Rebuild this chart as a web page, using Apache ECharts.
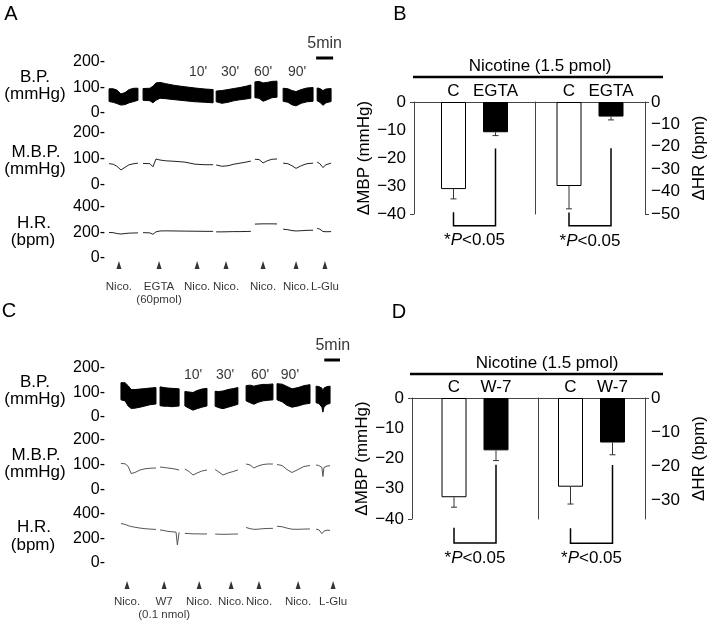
<!DOCTYPE html>
<html><head><meta charset="utf-8">
<script src="https://cdn.jsdelivr.net/npm/echarts@6/dist/echarts.min.js"></script>
<style>html,body{margin:0;padding:0;background:#fff}#c{width:709px;height:622px}</style>
</head><body><div id="c"></div>
<script>
// ===== Panel A traces (time in min; null = gap between recordings) =====
const tA      = [0.9,2.1,3.2,4.4,5.6,6.8,8.2,9.4, null, 10.9,12.9,13.8,14.7,15.9,17.6,20.3,23.2,26.2,29.1,31.5, null, 32.4,34.1,35.9,37.6,39.4,41.2,42.6, null, 43.8,45.0,46.2,47.4,48.8,50.3, null, 52.1,53.5,54.7,55.9,57.4,59.1,60.9, null, 62.1,62.9,63.8,64.7,66.2];
const bpHighA = [95,95,90,75,80,92,97,97, null, 96,97,105,118,120,115,108,103,98,94,92, null, 86,88,92,96,100,105,110, null, 122,124,118,120,124,125, null, 97,95,88,84,92,98,100, null, 98,96,88,94,96];
const bpLowA  = [45,42,37,31,33,40,45,50, null, 50,48,40,50,58,56,52,48,44,42,40, null, 44,38,42,48,52,55,58, null, 60,58,46,52,60,62, null, 46,42,32,28,38,44,46, null, 48,42,30,40,45];
const mbpA    = [82,80,72,58,68,78,82,84, null, 83,82,70,100,96,93,91,88,80,78,78, null, 77,72,74,80,84,88,92, null, 99,98,85,93,99,100, null, 84,82,74,64,74,82,84, null, 88,82,67,78,84];
const hrA     = [200,199,192,188,192,195,196,197, null, 199,197,186,205,212,213,212,211,210,209,209, null, 205,205,206,207,207,208,209, null, 266,267,268,268,268,267, null, 226,222,215,212,214,217,218, null, 232,226,208,206,207];
const arrowA_t = [3.8, 15.6, 26.8, 35.3, 46.2, 55.9, 64.4];
const arrowA_label = ['Nico.', 'EGTA\n(60pmol)', 'Nico.', 'Nico.', 'Nico.', 'Nico.', 'L-Glu'];
const timeMarkA_t = [27.1, 36.5, 46.2, 56.2];
const timeMarkA = ["10'", "30'", "60'", "90'"];

// ===== Panel C traces =====
const tC      = [4.4,5.6,6.5,7.4,8.5,10.0,11.5,12.9,14.7, null, 15.9,17.1,18.2,19.4,20.6,21.0,21.5, null, 23.2,24.4,25.6,26.8,28.2,29.7, null, 32.1,33.2,34.4,35.9,37.4,38.8, null, 41.2,42.4,43.5,44.7,46.2,47.6,49.1, null, 50.3,51.8,53.2,54.7,56.5,58.2,60.0, null, 61.8,62.6,63.5,63.8,64.1,65.0,65.9];
const bpHighC = [140,140,128,112,112,114,116,118,120, null, 123,120,118,117,116,116,115, null, 104,102,100,108,114,117, null, 105,104,106,112,116,120, null, 128,130,126,130,133,133,135, null, 136,134,125,115,120,128,132, null, 126,124,118,100,118,124,126];
const bpLowC  = [70,66,45,35,36,40,45,50,53, null, 46,44,44,42,44,44,45, null, 45,36,28,34,40,45, null, 44,38,34,40,46,52, null, 66,58,52,60,66,68,70, null, 70,62,48,40,45,52,56, null, 58,55,40,20,40,52,55];
const mbpC    = [106,105,95,66,70,80,85,87,88, null, 92,90,88,86,83,82,80, null, 84,74,60,68,76,80, null, 82,72,60,68,74,80, null, 104,100,88,96,102,104,104, null, 102,98,82,70,82,94,98, null, 100,98,90,54,90,96,97];
const hrC     = [322,315,305,298,292,285,280,277,274, null, 270,265,258,255,252,147,250, null, 242,240,238,238,237,237, null, 236,235,234,235,236,237, null, 290,280,275,276,280,282,283, null, 300,296,285,276,275,277,278, null, 276,272,240,230,260,268,266];
const arrowC_t = [6.2, 17.1, 27.4, 36.8, 45.0, 56.5, 66.8];
const arrowC_label = ['Nico.', 'W7\n(0.1 nmol)', 'Nico.', 'Nico.', 'Nico.', 'Nico.', 'L-Glu'];
const timeMarkC_t = [25.6, 35.0, 45.3, 54.1];
const timeMarkC = ["10'", "30'", "60'", "90'"];

const scaleBarMin = 5;     // 5 min scale bar
const bpTicks = [0, 100, 200];
const hrTicks = [0, 200, 400];

// ===== Panel B / D bars =====
const groupsB = ['C', 'EGTA'];
const mbpB = [-31.1, -10.8];  const mbpErrB = [3.5, 1.2];
const hrB  = [-37.5, -6.5];   const hrErrB  = [10.2, 1.5];
const groupsD = ['C', 'W-7'];
const mbpD = [-32.8, -17.3];  const mbpErrD = [3.3, 3.4];
const hrD  = [-26.1, -13.1];  const hrErrD  = [5.1, 3.6];
// significance brackets: [left leg top, right leg top, bottom]
const bracketMbpB = [-39.4, -16.6, -44.2];
const bracketHrB  = [-49.3, -20.7, -55.3];
const bracketMbpD = [-42.9, -22.1, -47.9];
const bracketHrD  = [-38.3, -19.7, -42.7];
const mbpBarTicks = [0, -10, -20, -30, -40];
const hrTicksB = [0, -10, -20, -30, -40, -50];
const hrTicksD = [0, -10, -20, -30];
const sigText = '*P<0.05';

// ---------------------------------------------------------------
const FONT = 'Liberation Sans, Arial, sans-serif';
const BAR_W = 25, BAR_GAP = 17, CAP = 3;
const zip = (t, v) => t.map((x, i) => [x, v[i]]);
const minus = v => String(v).replace('-', '\u2212');
function segmentsOf(t) {
  const segs = []; let cur = [];
  t.forEach((x, i) => { if (x === null) { if (cur.length) segs.push(cur); cur = []; } else cur.push(i); });
  if (cur.length) segs.push(cur);
  return segs;
}

const chart = echarts.init(document.getElementById('c'), null, {renderer: 'canvas'});

const traceGrids = [
  {left:106, top:62,  width:231.2, height:51},
  {left:106, top:133, width:231.2, height:52},
  {left:106, top:207, width:231.2, height:51},
  {left:106, top:368, width:231.2, height:49},
  {left:106, top:440, width:231.2, height:50},
  {left:106, top:514, width:231.2, height:49}
];
const barGrids = [
  {left:414, top:102, width:121, height:112},
  {left:535, top:102, width:127, height:112},
  {left:412, top:398, width:126, height:121},
  {left:538, top:398, width:124, height:121}
];

const xAxes = [];
for (let i = 0; i < 6; i++) xAxes.push({type:'value', gridIndex:i, min:0, max:68, show:false});
['MBP', 'HR', 'MBP', 'HR'].forEach((c, k) => xAxes.push({
  type:'category', gridIndex:6 + k, data:[c], position:'top',
  axisLine:{show:true, onZero:false, lineStyle:{color:'#444', width:1}},
  axisTick:{show:false}, axisLabel:{show:false}, splitLine:{show:false}
}));

function traceY(gi, ticks) {
  return {type:'value', gridIndex:gi, min:ticks[0], max:ticks[ticks.length-1], interval:ticks[1]-ticks[0],
    axisLine:{show:false}, axisTick:{show:false}, splitLine:{show:false},
    axisLabel:{formatter: v => v + '-', fontSize:16, color:'#000', margin:1, fontFamily:FONT}};
}
const yAxes = [
  traceY(0, bpTicks), traceY(1, bpTicks), traceY(2, hrTicks),
  traceY(3, bpTicks), traceY(4, bpTicks), traceY(5, hrTicks)
];
const axLine = {show:true, lineStyle:{color:'#444', width:1}};
function leftBarY(gi, ticks) {
  return {type:'value', gridIndex:gi, position:'left', min:ticks[ticks.length-1], max:0, interval:10,
    axisLine:axLine, splitLine:{show:false},
    axisTick:{show:true, length:4, customValues:[0, ticks[ticks.length-1]], lineStyle:{color:'#444'}},
    axisLabel:{formatter:minus, fontSize:17, color:'#000', margin:8, fontFamily:FONT},
    name:'\u0394MBP (mmHg)', nameLocation:'middle', nameGap:31,
    nameTextStyle:{fontSize:17, color:'#000', fontFamily:FONT}};
}
function dividerY(gi, min) {
  return {type:'value', gridIndex:gi, position:'left', min:min, max:0,
    axisLine:axLine, axisTick:{show:false}, axisLabel:{show:false}, splitLine:{show:false}};
}
function rightBarY(gi, min, ticks, tickEnds) {
  return {type:'value', gridIndex:gi, position:'right', min:min, max:0,
    axisLine:axLine, splitLine:{show:false},
    axisTick:{show:true, length:4, customValues:tickEnds, lineStyle:{color:'#444'}},
    axisLabel:{customValues:ticks, formatter:minus, fontSize:17, color:'#000', margin:6, fontFamily:FONT},
    name:'\u0394HR (bpm)', nameLocation:'middle', nameRotate:90, nameGap:46,
    nameTextStyle:{fontSize:17, color:'#000', fontFamily:FONT}};
}
yAxes.push(leftBarY(6, mbpBarTicks));                    // 6
yAxes.push(dividerY(7, -50));                            // 7
yAxes.push(rightBarY(7, -50, hrTicksB, [0, -50]));       // 8
yAxes.push(leftBarY(8, mbpBarTicks));                    // 9
yAxes.push(dividerY(9, -35.6));                          // 10
yAxes.push(rightBarY(9, -35.6, hrTicksD, [0]));          // 11

const series = [];
function tracePanel(base, t, hi, lo, mbp, hr, color, arrowsT, arrowsL, arrowY, arrowDist, tmT, tmL, tmY, sbY) {
  const common = {type:'line', symbol:'none', showSymbol:false, connectNulls:false, silent:true, animation:false};
  const segs = segmentsOf(t);
  // pulsatile blood pressure: filled band between diastolic (low) and systolic (high) envelope
  series.push({type:'custom', xAxisIndex:base, yAxisIndex:base, silent:true, animation:false, clip:false, z:2,
    data:segs.map(s => [t[s[0]], hi[s[0]]]),
    renderItem(params, api) {
      const s = segs[params.dataIndex];
      const top = s.map(i => api.coord([t[i], hi[i]]));
      const bot = s.slice().reverse().map(i => api.coord([t[i], lo[i]]));
      return {type:'polygon', shape:{points:top.concat(bot)}, style:{fill:'#000', stroke:'#000', lineWidth:1}};
    }});
  series.push(Object.assign({}, common, {xAxisIndex:base+1, yAxisIndex:base+1, data:zip(t, mbp),
    lineStyle:{color:color, width:1}}));
  series.push(Object.assign({}, common, {xAxisIndex:base+2, yAxisIndex:base+2, data:zip(t, hr),
    lineStyle:{color:color, width:1}}));
  // 5 min scale bar
  const tEnd = arrowsT[arrowsT.length-1] + 2.4;
  series.push(Object.assign({}, common, {xAxisIndex:base, yAxisIndex:base, clip:false, z:4,
    data:[[tEnd - scaleBarMin, sbY], [tEnd, sbY]], lineStyle:{color:'#000', width:3}}));
  series.push({type:'scatter', xAxisIndex:base, yAxisIndex:base, clip:false, silent:true, animation:false,
    data:[[tEnd - scaleBarMin/2, sbY]], symbolSize:1, itemStyle:{color:'rgba(0,0,0,0)'},
    label:{show:true, position:'top', distance:6, formatter:scaleBarMin + 'min', fontSize:16, color:'#000', fontFamily:FONT}});
  // injection arrows
  series.push({type:'scatter', xAxisIndex:base+2, yAxisIndex:base+2, clip:false, silent:true, animation:false,
    data:arrowsT.map(x => [x, arrowY]), symbol:'triangle', symbolSize:[5, 8], itemStyle:{color:'#000'},
    label:{show:true, position:'bottom', distance:arrowDist, formatter:p => arrowsL[p.dataIndex],
      fontSize:11.5, lineHeight:13, color:'#000', fontFamily:FONT}});
  // time marks
  series.push({type:'scatter', xAxisIndex:base, yAxisIndex:base, clip:false, silent:true, animation:false,
    data:tmT.map(x => [x, tmY]), symbolSize:1, itemStyle:{color:'rgba(0,0,0,0)'},
    label:{show:true, position:'inside', formatter:p => tmL[p.dataIndex], fontSize:14, color:'#000', fontFamily:FONT}});
}
tracePanel(0, tA, bpHighA, bpLowA, mbpA, hrA, '#222', arrowA_t, arrowA_label, -55, 11, timeMarkA_t, timeMarkA, 161, 216);
tracePanel(3, tC, bpHighC, bpLowC, mbpC, hrC, '#555', arrowC_t, arrowC_label, -180, 6, timeMarkC_t, timeMarkC, 171, 233);

function barPanel(xi, yi, groups, means, errs, br) {
  const lbl = name => ({show:true, position:'top', distance:2, formatter:name, fontSize:17, color:'#000', fontFamily:FONT});
  series.push({type:'bar', name:groups[0], xAxisIndex:xi, yAxisIndex:yi, data:[means[0]], barWidth:BAR_W,
    barGap:(BAR_GAP / BAR_W * 100) + '%', animation:false, silent:true,
    itemStyle:{color:'#fff', borderColor:'#000', borderWidth:1}, label:lbl(groups[0])});
  series.push({type:'bar', name:groups[1], xAxisIndex:xi, yAxisIndex:yi, data:[means[1]], barWidth:BAR_W,
    barGap:(BAR_GAP / BAR_W * 100) + '%', animation:false, silent:true,
    itemStyle:{color:'#000', borderColor:'#000', borderWidth:1}, label:lbl(groups[1])});
  series.push({type:'custom', xAxisIndex:xi, yAxisIndex:yi, data:[0], clip:false, silent:true, z:5, animation:false,
    renderItem(params, api) {
      const off = (BAR_W + BAR_GAP) / 2;
      const cx = api.coord([0, 0])[0];
      const xs = [cx - off, cx + off];
      const ch = [];
      means.forEach((m, i) => {
        const y1 = api.coord([0, m])[1], y2 = api.coord([0, m - errs[i]])[1];
        ch.push({type:'line', shape:{x1:xs[i], y1:y1, x2:xs[i], y2:y2}, style:{stroke:'#333', lineWidth:1}});
        ch.push({type:'line', shape:{x1:xs[i]-CAP, y1:y2, x2:xs[i]+CAP, y2:y2}, style:{stroke:'#333', lineWidth:1}});
      });
      const yl = api.coord([0, br[0]])[1], yr = api.coord([0, br[1]])[1], yb = api.coord([0, br[2]])[1];
      ch.push({type:'polyline', shape:{points:[[xs[0], yl], [xs[0], yb], [xs[1], yb], [xs[1], yr]]},
        style:{stroke:'#000', fill:'none', lineWidth:1.5}});
      ch.push({type:'text', x:(xs[0] + xs[1]) / 2, y:yb + 15,
        style:{text:'{a|*}{b|P}{a|' + sigText.slice(2) + '}', align:'center', verticalAlign:'middle',
          rich:{a:{fontSize:17, fontFamily:FONT, fill:'#000'}, b:{fontSize:17, fontFamily:FONT, fontStyle:'italic', fill:'#000'}}}});
      return {type:'group', children:ch};
    }});
}
barPanel(6, 6, groupsB, mbpB, mbpErrB, bracketMbpB);
barPanel(7, 8, groupsB, hrB, hrErrB, bracketHrB);
barPanel(8, 9, groupsD, mbpD, mbpErrD, bracketMbpD);
barPanel(9, 11, groupsD, hrD, hrErrD, bracketHrD);

function txt(text, x, y, size, extra) {
  return {type:'text', x:x, y:y, silent:true,
    style:Object.assign({text:text, fontSize:size, fontFamily:FONT, fill:'#000', align:'center', verticalAlign:'middle'}, extra || {})};
}
const graphic = [
  txt('A', 11, 14, 20), txt('B', 400, 14, 20), txt('C', 9, 311, 20), txt('D', 399, 312, 20),
  txt('B.P.', 35, 77, 17), txt('(mmHg)', 35, 94, 17),
  txt('M.B.P.', 36, 152, 17), txt('(mmHg)', 35, 169, 17),
  txt('H.R.', 34, 223, 17), txt('(bpm)', 33, 240, 17),
  txt('B.P.', 35, 382, 17), txt('(mmHg)', 35, 399, 17),
  txt('M.B.P.', 36, 455, 17), txt('(mmHg)', 35, 472, 17),
  txt('H.R.', 34, 527, 17), txt('(bpm)', 33, 545, 17),
  txt('Nicotine (1.5 pmol)', 540, 66, 17),
  {type:'line', silent:true, shape:{x1:413, y1:77, x2:663, y2:77}, style:{stroke:'#000', lineWidth:2.5}},
  txt('Nicotine (1.5 pmol)', 547, 363, 17),
  {type:'line', silent:true, shape:{x1:410, y1:374, x2:663, y2:374}, style:{stroke:'#000', lineWidth:2.5}}
];

chart.setOption({
  animation:false,
  backgroundColor:'#fff',
  textStyle:{fontFamily:FONT},
  grid:traceGrids.concat(barGrids),
  xAxis:xAxes, yAxis:yAxes, series:series, graphic:graphic
});
</script></body></html>
